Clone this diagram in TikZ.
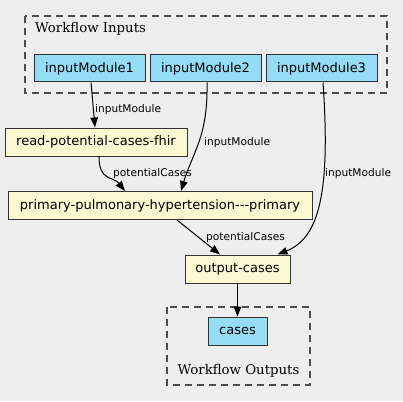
\documentclass[tikz,border=0pt]{standalone}
\usepackage{fontspec}
\usepackage{tikz}
\usetikzlibrary{arrows.meta, calc, positioning}
\newfontfamily\wfsans{DejaVu Sans}
\newfontfamily\wfserif{DejaVu Serif}
\definecolor{bgray}{HTML}{EEEEEE}
\definecolor{inblue}{HTML}{94DDF4}
\definecolor{stepyellow}{HTML}{FAFAD2}
\definecolor{edgegray}{HTML}{333333}
\tikzset{
	every node/.style={
		font=\wfsans\fontsize{13}{15}\selectfont
	},
	iobox/.style={
		shape=rectangle,
		draw=edgegray,
		line width=1pt,
		fill=inblue,
		minimum height=27pt,
		inner sep=0pt
	},
	stepbox/.style={
		shape=rectangle,
		draw=edgegray,
		line width=1pt,
		fill=stepyellow,
		minimum height=28pt,
		inner sep=0pt
	},
	cluster/.style={
		draw=black!70,
		line width=1.1pt,
		dash pattern=on 7pt off 5pt
	},
	clusterlabel/.style={
		font=\wfserif\fontsize{13.3}{15}\selectfont,
		inner sep=0pt
	},
	edgelabel/.style={
		font=\wfsans\fontsize{10.6}{12}\selectfont,
		inner sep=0pt,
		anchor=west
	},
	flow/.style={
		-{Triangle[length=10pt,width=7.5pt]},
		line width=1pt,
		black
	}
}

\begin{document}
\begin{tikzpicture}[x=1pt,y=-1pt]
	\fill[bgray] (0,0) rectangle (403,401);
	\useasboundingbox (0,0) rectangle (403,401);
	
	% clusters
	\draw[cluster] (25,16) rectangle (387,93);
	\node[clusterlabel, anchor=west] (inlabel) at (35,29) {Workflow Inputs};
	\draw[cluster] (167,307) rectangle (310,385);
	\node[clusterlabel] (outlabel) at (238.5,371) {Workflow Outputs};
	
	% inputs
	\node[iobox, minimum width=111pt] (in1) at (89.5,68.5) {inputModule1};
	\node[iobox, minimum width=111pt] (in2) at (205.5,68.5) {inputModule2};
	\node[iobox, minimum width=111pt] (in3) at (321.5,68.5) {inputModule3};
	
	% steps
	\node[stepbox, minimum width=182pt] (read) at (96,142) {read-potential-cases-fhir};
	\node[stepbox, minimum width=304pt] (prim) at (160,205.5) {primary-pulmonary-hypertension---primary};
	\node[stepbox, minimum width=105pt] (outc) at (237.5,269) {output-cases};
	
	% outputs
	\node[iobox, minimum width=59pt, minimum height=28pt] (cases) at (237.5,331) {cases};
	
	% connectors
	\draw[flow] ($(in1.south)+(1.5,0)$) -- ($(read.north)+(-1,0)$);
	\draw[flow] ($(in2.south)+(1.5,0)$) .. controls +(1,55) and +(12,-40) .. ($(prim.north)+(21,0)$);
	\draw[flow] ($(in3.south)+(1.5,0)$) .. controls +(8,115) and +(40,-16) .. ($(outc.north)+(40,0)$);
	\draw[flow] ($(read.south)+(3,0)$) .. controls +(0,25) and +(-12,-15) .. ($(prim.north)+(-35,0)$);
	\draw[flow] ($(prim.south)+(17,0)$) -- ($(outc.north)+(-17.5,0)$);
	\draw[flow] (outc.south) -- (cases.north);
	
	% edge labels
	\node[edgelabel] (l1) at (95,110) {inputModule};
	\node[edgelabel] (l2) at (204,143) {inputModule};
	\node[edgelabel] (l3) at (325,174) {inputModule};
	\node[edgelabel] (l4) at (113,174) {potentialCases};
	\node[edgelabel] (l5) at (206,238) {potentialCases};
\end{tikzpicture}
\end{document}
